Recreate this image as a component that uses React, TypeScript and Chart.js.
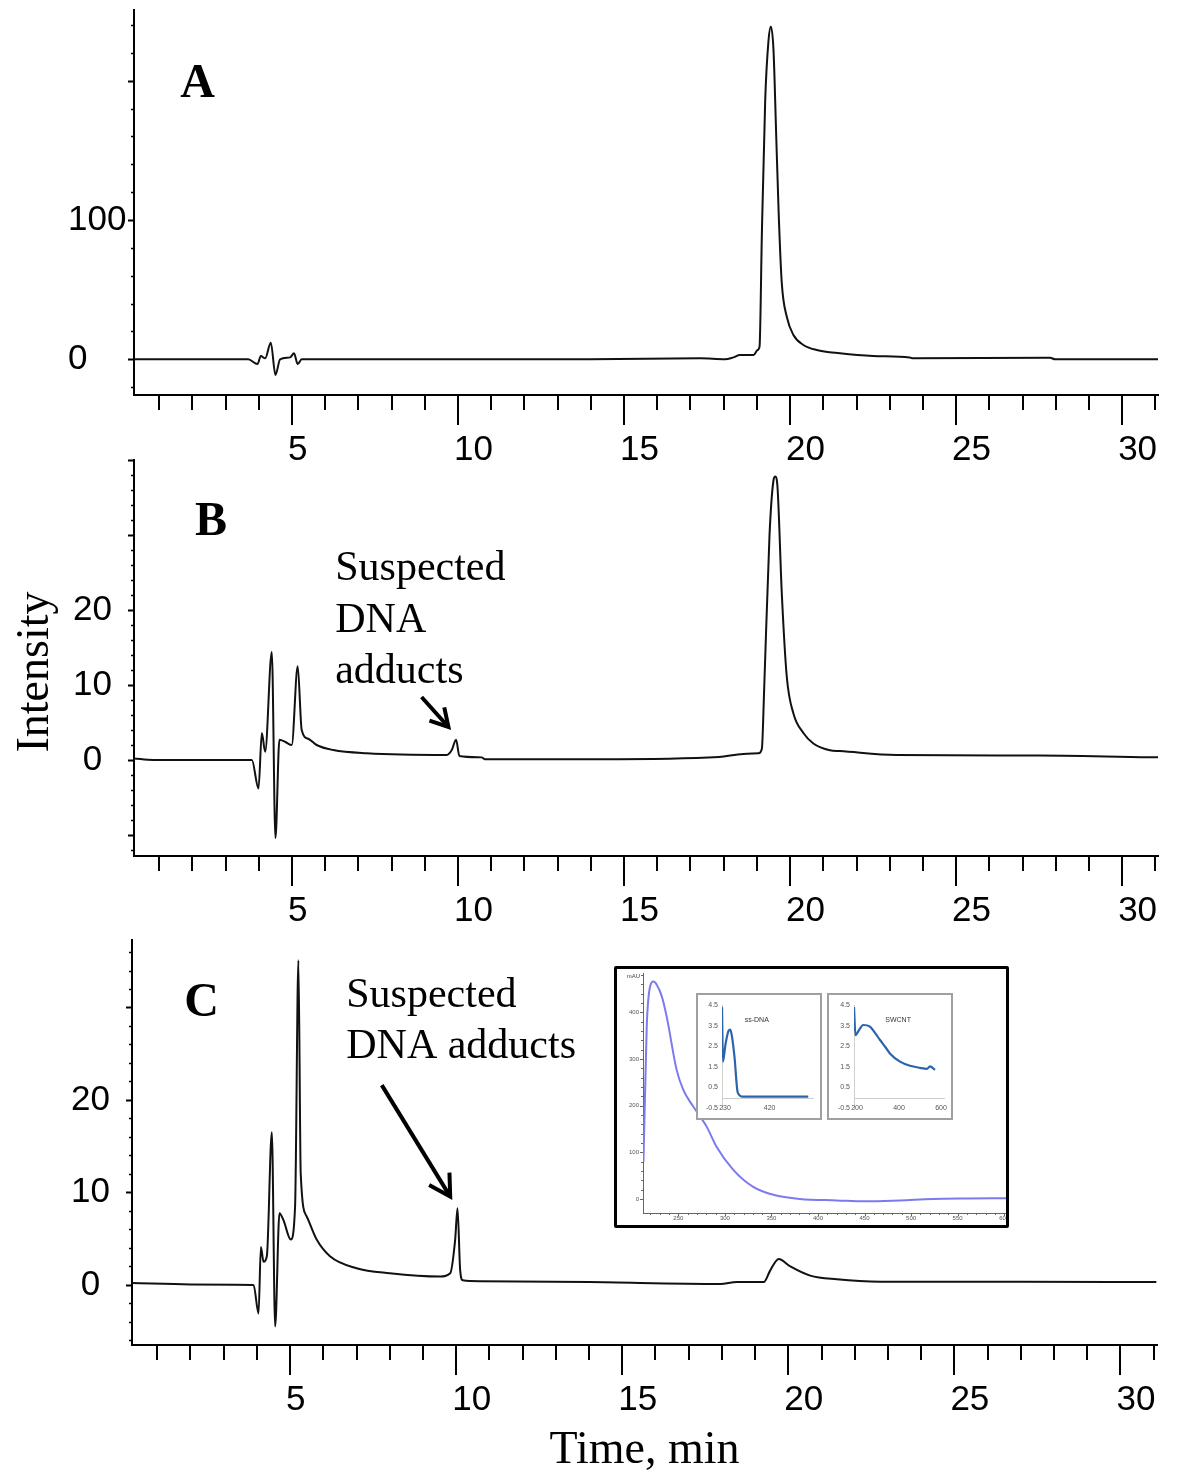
import React, { useEffect, useRef } from "react";
import { Chart, registerables } from "chart.js";

Chart.register(...registerables);

const SANS = "'Liberation Sans', Arial, Helvetica, sans-serif";
const SERIF = "'Liberation Serif', 'Times New Roman', Times, serif";

// ---------------- Data ----------------
// Panel A
const timeA = [0.24, 3.68, 3.96, 4.06, 4.19, 4.36, 4.5, 4.64, 4.94, 5.06, 5.17, 5.29, 9.0, 14.0, 17.29, 18.04, 18.29, 18.49, 18.9, 19.02, 19.08, 19.15, 19.25, 19.35, 19.42, 19.5, 19.58, 19.66, 19.75, 19.9, 20.1, 20.4, 20.8, 21.5, 22.5, 23.6, 23.7, 27.83, 27.98, 31.08];
const intensityA = [0, 0, -3.35, 2.4, 0.7, 12, -11.2, 0, 1.4, 4.3, -3.35, 0, 0, 0, 0.7, 0, 1.4, 3.1, 3.1, 6.7, 9.1, 90.5, 186, 229, 239, 222, 162, 102, 54.5, 30.6, 17.5, 10.3, 6.7, 4.3, 2.4, 1.4, 0.7, 1.2, 0, 0];

// Panel B
const timeB = [0.24, 0.82, 3.79, 3.99, 4.09, 4.19, 4.39, 4.5, 4.62, 4.8, 4.99, 5.17, 5.29, 5.5, 5.74, 6.24, 7.25, 9.66, 9.81, 9.94, 10.04, 10.71, 10.81, 14.25, 17.86, 18.59, 19.05, 19.15, 19.22, 19.38, 19.5, 19.55, 19.62, 19.75, 19.9, 20.1, 20.4, 20.7, 21.2, 21.5, 23.2, 27.5, 31.08];
const intensityB = [0.2, 0, 0, -3.8, 3.6, 1.1, 14.4, -10.4, 2.7, 2.4, 2.0, 12.5, 4.0, 2.8, 2.0, 1.33, 0.9, 0.67, 1.33, 2.7, 0.53, 0.35, 0.1, 0.1, 0.4, 0.8, 0.9, 1.5, 9.6, 30, 37.3, 37.8, 36.4, 22.2, 11.1, 6.2, 3.6, 2.2, 1.3, 1.2, 0.67, 0.6, 0.35];

// Panel C
const timeC = [0.24, 2.0, 3.9, 4.05, 4.12, 4.2, 4.3, 4.45, 4.55, 4.68, 4.8, 5.02, 5.15, 5.25, 5.32, 5.5, 5.8, 6.2, 7.0, 8.0, 9.52, 9.82, 9.97, 10.04, 10.12, 10.2, 10.72, 14.0, 17.95, 18.45, 19.26, 19.46, 19.71, 20.06, 20.66, 21.46, 22.77, 27.0, 31.08];
const intensityC = [0.2, 0.05, 0, -3.1, 4.1, 2.5, 3.1, 16.5, -4.5, 7.75, 7.0, 4.9, 8.5, 35.1, 12, 7.4, 4.9, 3.1, 1.8, 1.26, 0.9, 1.26, 4.9, 8.3, 1.6, 0.5, 0.4, 0.3, 0.1, 0.3, 0.3, 1.6, 2.8, 2.0, 1.0, 0.6, 0.35, 0.35, 0.3];

// Tick labels
const xTickLabels = [5, 10, 15, 20, 25, 30];
const yTickLabelsA = [0, 100];
const yTickLabelsB = [0, 10, 20];
const yTickLabelsC = [0, 10, 20];

// Texts
const panelLetters = ["A", "B", "C"];
const noteLinesB = ["Suspected", "DNA", "adducts"];
const noteLinesC = ["Suspected", "DNA adducts"];
const yTitle = "Intensity";
const xTitle = "Time, min";

// UV inset (main)
const uvWavelength = [212.5, 216, 219.6, 223.2, 226.8, 232.2, 237.5, 248.2, 255.4, 266, 280.4, 291, 309, 330.4, 352, 380.4, 420, 452, 488, 523.3, 560, 602];
const uvAbsorbance = [80, 369, 455, 466, 459, 434, 390, 276, 233, 198, 155, 112, 62.5, 26, 9, 0, -3, -5, -3, 0, 1, 1.5];
const uvTickLabelsX = [250, 300, 350, 400, 450, 500, 550, 600];
const uvTickLabelsY = [0, 100, 200, 300, 400];
const uvUnit = "mAU";

// Sub-spectra
const ssDnaWavelength = [230, 234, 245, 258, 265, 272, 283, 297, 319, 450, 597];
const ssDnaAbsorbance = [4.4, 1.75, 2.6, 3.25, 3.3, 3.0, 2.0, 0.25, 0.05, 0.05, 0.05];
const swcntWavelength = [200, 207, 225, 244, 276, 300, 324, 350, 371, 419, 467, 514, 547, 562, 586];
const swcntAbsorbance = [4.4, 3.04, 3.3, 3.53, 3.45, 3.15, 2.8, 2.45, 2.15, 1.75, 1.55, 1.45, 1.4, 1.52, 1.35];
const subTickLabelsY = [-0.5, 0.5, 1.5, 2.5, 3.5, 4.5];
const ssDnaTickLabelsX = [230, 420];
const swcntTickLabelsX = [200, 400, 600];
const subTitles = ["ss-DNA", "SWCNT"];

// ---------------- Types ----------------
type TextNote = { text: string; x: number; y: number; font: string; rotate?: boolean; align?: CanvasTextAlign; baseline?: CanvasTextBaseline };
type ArrowNote = { x1: number; y1: number; x2: number; y2: number; head: number };
type PanelSpec = {
  top: number; height: number;
  times: number[]; values: number[];
  xMin: number; xMax: number;
  yMin: number; yMax: number; yLabels: number[]; yMajor: number; yMinor: number;
  padLeft: number; yAxisWidth: number; padTop: number; xAxisHeight: number; padRight: number;
  crossAlign: "far" | "center"; yLabelPad: number;
  texts: TextNote[]; arrows: ArrowNote[]; xTitle?: string;
};

const LETTER_FONT = `bold 48px ${SERIF}`;
const NOTE_FONT = `42px ${SERIF}`;

const panelA: PanelSpec = {
  top: 0, height: 470, times: timeA, values: intensityA,
  xMin: 0.24, xMax: 31.08,
  yMin: -25.6, yMax: 250.8, yLabels: yTickLabelsA, yMajor: 100, yMinor: 20,
  padLeft: 68, yAxisWidth: 66, padTop: 10, xAxisHeight: 75, padRight: 20,
  crossAlign: "far", yLabelPad: 10,
  texts: [{ text: panelLetters[0], x: 1.63, y: 188.3, font: LETTER_FONT }],
  arrows: [],
};

const panelB: PanelSpec = {
  top: 440, height: 490, times: timeB, values: intensityB,
  xMin: 0.24, xMax: 31.08,
  yMin: -12.8, yMax: 40, yLabels: yTickLabelsB, yMajor: 10, yMinor: 2,
  padLeft: 0, yAxisWidth: 134, padTop: 20, xAxisHeight: 74, padRight: 20,
  crossAlign: "center", yLabelPad: 22,
  texts: [
    { text: panelLetters[1], x: 2.08, y: 30, font: LETTER_FONT },
    { text: noteLinesB[0], x: 6.3, y: 24, font: NOTE_FONT },
    { text: noteLinesB[1], x: 6.3, y: 17.07, font: NOTE_FONT },
    { text: noteLinesB[2], x: 6.3, y: 10.27, font: NOTE_FONT },
    { text: yTitle, x: -2.7, y: 11.73, font: `46px ${SERIF}`, rotate: true, align: "center", baseline: "middle" },
  ],
  arrows: [{ x1: 8.9, y1: 8.4, x2: 9.71, y2: 4.4, head: 20 }],
};

const panelC: PanelSpec = {
  top: 920, height: 559, times: timeC, values: intensityC,
  xMin: 0.24, xMax: 31.1,
  yMin: -6.5, yMax: 37.3, yLabels: yTickLabelsC, yMajor: 10, yMinor: 2,
  padLeft: 0, yAxisWidth: 132, padTop: 20, xAxisHeight: 134, padRight: 21,
  crossAlign: "center", yLabelPad: 22,
  texts: [
    { text: panelLetters[2], x: 1.81, y: 29.1, font: LETTER_FONT },
    { text: noteLinesC[0], x: 6.69, y: 30.05, font: NOTE_FONT },
    { text: noteLinesC[1], x: 6.69, y: 24.54, font: NOTE_FONT },
  ],
  arrows: [{ x1: 7.76, y1: 21.6, x2: 9.82, y2: 9.55, head: 24 }],
  xTitle: xTitle,
};

function zeroPad(sc: any) {
  sc.paddingTop = 0;
  sc.paddingBottom = 0;
  sc.paddingLeft = 0;
  sc.paddingRight = 0;
}

// ---------------- Panels ----------------
function Panel({ spec }: { spec: PanelSpec }) {
  const ref = useRef<HTMLCanvasElement>(null);
  useEffect(() => {
    const s = spec;
    const decor = {
      id: "decor",
      afterDraw(chart: any) {
        const { ctx, chartArea } = chart;
        const xs = chart.scales.x;
        const ys = chart.scales.y;
        ctx.save();
        ctx.strokeStyle = "#000";
        ctx.lineCap = "butt";
        ctx.lineWidth = 2;
        for (let v = Math.ceil(xs.min); v <= Math.floor(xs.max); v++) {
          const px = Math.round(xs.getPixelForValue(v));
          const len = v % 5 === 0 ? 30 : 15;
          ctx.beginPath();
          ctx.moveTo(px, chartArea.bottom);
          ctx.lineTo(px, chartArea.bottom + len);
          ctx.stroke();
        }
        const k0 = Math.ceil(s.yMin / s.yMinor - 1e-9);
        const k1 = Math.floor(s.yMax / s.yMinor + 1e-9);
        const ratio = Math.round(s.yMajor / s.yMinor);
        for (let k = k0; k <= k1; k++) {
          const v = k * s.yMinor;
          const py = Math.round(ys.getPixelForValue(v)) + 0.5;
          const major = k % ratio === 0;
          ctx.lineWidth = major ? 2 : 1.5;
          const len = major ? 6 : 3;
          ctx.beginPath();
          ctx.moveTo(chartArea.left - len, py);
          ctx.lineTo(chartArea.left, py);
          ctx.stroke();
        }
        ctx.fillStyle = "#000";
        for (const t of s.texts) {
          const px = xs.getPixelForValue(t.x);
          const py = ys.getPixelForValue(t.y);
          ctx.font = t.font;
          ctx.textAlign = t.align ?? "left";
          ctx.textBaseline = t.baseline ?? "alphabetic";
          if (t.rotate) {
            ctx.save();
            ctx.translate(px, py);
            ctx.rotate(-Math.PI / 2);
            ctx.fillText(t.text, 0, 0);
            ctx.restore();
          } else {
            ctx.fillText(t.text, px, py);
          }
        }
        ctx.lineWidth = 4;
        ctx.lineJoin = "miter";
        for (const a of s.arrows) {
          const x1 = xs.getPixelForValue(a.x1), y1 = ys.getPixelForValue(a.y1);
          const x2 = xs.getPixelForValue(a.x2), y2 = ys.getPixelForValue(a.y2);
          const ang = Math.atan2(y2 - y1, x2 - x1);
          ctx.beginPath();
          ctx.moveTo(x1, y1);
          ctx.lineTo(x2 - 2 * Math.cos(ang), y2 - 2 * Math.sin(ang));
          ctx.stroke();
          ctx.beginPath();
          ctx.moveTo(x2 - a.head * Math.cos(ang - 0.52), y2 - a.head * Math.sin(ang - 0.52));
          ctx.lineTo(x2, y2);
          ctx.lineTo(x2 - a.head * Math.cos(ang + 0.52), y2 - a.head * Math.sin(ang + 0.52));
          ctx.stroke();
        }
        ctx.restore();
      },
    };
    const chart = new Chart(ref.current as HTMLCanvasElement, {
      type: "line",
      data: {
        datasets: [
          {
            data: s.times.map((t, i) => ({ x: t, y: s.values[i] })),
            borderColor: "#111",
            borderWidth: 2,
            pointRadius: 0,
            fill: false,
            cubicInterpolationMode: "monotone",
          },
        ],
      },
      options: {
        responsive: false,
        animation: false,
        events: [],
        layout: { padding: { left: s.padLeft, top: s.padTop, right: s.padRight, bottom: 0 } },
        plugins: { legend: { display: false }, tooltip: { enabled: false }, title: { display: false } },
        scales: {
          x: {
            type: "linear",
            min: s.xMin,
            max: s.xMax,
            afterFit: (sc: any) => { sc.height = s.xAxisHeight; zeroPad(sc); },
            afterBuildTicks: (sc: any) => { sc.ticks = xTickLabels.map((v) => ({ value: v })); },
            grid: { display: false, drawTicks: false },
            border: { display: true, color: "#000", width: 2 },
            ticks: { font: { family: SANS, size: 35 }, color: "#000", align: "start", labelOffset: -4, padding: 34, autoSkip: false, maxRotation: 0 },
            title: s.xTitle
              ? { display: true, text: s.xTitle, color: "#000", font: { family: SERIF, size: 46 }, padding: { top: 0, bottom: 0 } }
              : { display: false },
          },
          y: {
            type: "linear",
            min: s.yMin,
            max: s.yMax,
            afterFit: (sc: any) => { sc.width = s.yAxisWidth; zeroPad(sc); },
            afterBuildTicks: (sc: any) => { sc.ticks = s.yLabels.map((v) => ({ value: v })); },
            grid: { display: false, drawTicks: false },
            border: { display: true, color: "#000", width: 2 },
            ticks: { font: { family: SANS, size: 35 }, color: "#000", crossAlign: s.crossAlign, padding: s.yLabelPad, autoSkip: false },
          },
        },
      } as any,
      plugins: [decor],
    });
    return () => chart.destroy();
  }, []);
  return (
    <canvas ref={ref} width={1178} height={spec.height} style={{ position: "absolute", left: 0, top: spec.top }} />
  );
}

// ---------------- UV inset ----------------
function UvInset() {
  const ref = useRef<HTMLCanvasElement>(null);
  useEffect(() => {
    const decor = {
      id: "uvdecor",
      afterDraw(chart: any) {
        const { ctx, chartArea } = chart;
        const xs = chart.scales.x;
        const ys = chart.scales.y;
        ctx.save();
        ctx.strokeStyle = "#666";
        ctx.lineWidth = 1;
        for (let v = 0; v <= 480; v += 20) {
          const py = Math.round(ys.getPixelForValue(v)) + 0.5;
          ctx.beginPath();
          ctx.moveTo(chartArea.left - (v % 100 === 0 ? 3 : 2), py);
          ctx.lineTo(chartArea.left, py);
          ctx.stroke();
        }
        for (let v = 220; v <= 600; v += 10) {
          const px = Math.round(xs.getPixelForValue(v)) + 0.5;
          ctx.beginPath();
          ctx.moveTo(px, chartArea.bottom);
          ctx.lineTo(px, chartArea.bottom + (v % 50 === 0 ? 3 : 2));
          ctx.stroke();
        }
        ctx.fillStyle = "#444";
        ctx.font = `6px ${SANS}`;
        ctx.textAlign = "right";
        ctx.textBaseline = "middle";
        ctx.fillText(uvUnit, chartArea.left - 3, chartArea.top + 3);
        ctx.restore();
      },
    };
    const chart = new Chart(ref.current as HTMLCanvasElement, {
      type: "line",
      data: {
        datasets: [
          {
            data: uvWavelength.map((w, i) => ({ x: w, y: uvAbsorbance[i] })),
            borderColor: "#7b7bef",
            borderWidth: 2,
            pointRadius: 0,
            fill: false,
            cubicInterpolationMode: "monotone",
          },
        ],
      },
      options: {
        responsive: false,
        animation: false,
        events: [],
        layout: { padding: { left: 0, top: 4, right: 0, bottom: 0 } },
        plugins: { legend: { display: false }, tooltip: { enabled: false } },
        scales: {
          x: {
            type: "linear", min: 212, max: 602,
            afterFit: (sc: any) => { sc.height = 12; zeroPad(sc); },
            afterBuildTicks: (sc: any) => { sc.ticks = uvTickLabelsX.map((v) => ({ value: v })); },
            grid: { display: false, drawTicks: false },
            border: { display: true, color: "#666", width: 1 },
            ticks: { font: { family: SANS, size: 6 }, color: "#555", padding: 2, autoSkip: false, maxRotation: 0 },
          },
          y: {
            type: "linear", min: -30, max: 484,
            afterFit: (sc: any) => { sc.width = 26; zeroPad(sc); },
            afterBuildTicks: (sc: any) => { sc.ticks = uvTickLabelsY.map((v) => ({ value: v })); },
            grid: { display: false, drawTicks: false },
            border: { display: true, color: "#666", width: 1 },
            ticks: { font: { family: SANS, size: 6 }, color: "#555", padding: 4, autoSkip: false },
          },
        },
      } as any,
      plugins: [decor],
    });
    return () => chart.destroy();
  }, []);
  return (
    <div style={{ position: "absolute", left: 614, top: 966, width: 395, height: 262, border: "3px solid #000", boxSizing: "border-box", background: "#fff", borderRadius: 2 }}>
      <canvas ref={ref} width={389} height={256} style={{ position: "absolute", left: 0, top: 0 }} />
    </div>
  );
}

type SubSpec = {
  left: number; top: number; wl: number[]; abs: number[]; xMin: number; xMax: number;
  axisWidth: number; xLabels: number[]; title: string; titleX: number; titleY: number;
};

const ssDnaSpec: SubSpec = {
  left: 696, top: 993, wl: ssDnaWavelength, abs: ssDnaAbsorbance, xMin: 230, xMax: 647,
  axisWidth: 24, xLabels: ssDnaTickLabelsX, title: subTitles[0], titleX: 378, titleY: 3.77,
};
const swcntSpec: SubSpec = {
  left: 827, top: 993, wl: swcntWavelength, abs: swcntAbsorbance, xMin: 200, xMax: 662,
  axisWidth: 25, xLabels: swcntTickLabelsX, title: subTitles[1], titleX: 410, titleY: 3.77,
};

function SubSpectrum({ spec }: { spec: SubSpec }) {
  const ref = useRef<HTMLCanvasElement>(null);
  useEffect(() => {
    const s = spec;
    const decor = {
      id: "subdecor",
      afterDraw(chart: any) {
        const { ctx, chartArea } = chart;
        const xs = chart.scales.x;
        const ys = chart.scales.y;
        ctx.save();
        ctx.strokeStyle = "#cfcfcf";
        ctx.lineWidth = 1;
        const y0 = Math.round(ys.getPixelForValue(0)) + 0.5;
        ctx.beginPath();
        ctx.moveTo(chartArea.left, y0);
        ctx.lineTo(chartArea.right - 6, y0);
        ctx.stroke();
        ctx.fillStyle = "#555";
        ctx.font = `7px ${SANS}`;
        ctx.textAlign = "center";
        ctx.textBaseline = "middle";
        const yl = ys.getPixelForValue(-0.5);
        for (const v of s.xLabels) ctx.fillText(String(v), xs.getPixelForValue(v) + 3, yl);
        ctx.fillStyle = "#333";
        ctx.fillText(s.title, xs.getPixelForValue(s.titleX), ys.getPixelForValue(s.titleY));
        ctx.restore();
      },
    };
    const chart = new Chart(ref.current as HTMLCanvasElement, {
      type: "line",
      data: {
        datasets: [
          {
            data: s.wl.map((w, i) => ({ x: w, y: s.abs[i] })),
            borderColor: "#2b63ad",
            borderWidth: 2.2,
            pointRadius: 0,
            fill: false,
            cubicInterpolationMode: "monotone",
          },
        ],
      },
      options: {
        responsive: false,
        animation: false,
        events: [],
        layout: { padding: { left: 0, top: 10, right: 0, bottom: 10 } },
        plugins: { legend: { display: false }, tooltip: { enabled: false } },
        scales: {
          x: { type: "linear", min: s.xMin, max: s.xMax, display: false },
          y: {
            type: "linear", min: -0.5, max: 4.5,
            afterFit: (sc: any) => { sc.width = s.axisWidth; zeroPad(sc); },
            afterBuildTicks: (sc: any) => { sc.ticks = subTickLabelsY.map((v) => ({ value: v })); },
            grid: { display: false, drawTicks: false },
            border: { display: true, color: "#cfcfcf", width: 1 },
            ticks: { font: { family: SANS, size: 7 }, color: "#555", padding: 4, autoSkip: false },
          },
        },
      } as any,
      plugins: [decor],
    });
    return () => chart.destroy();
  }, []);
  return (
    <div style={{ position: "absolute", left: spec.left, top: spec.top, width: 126, height: 127, border: "2px solid #a0a0a0", boxSizing: "border-box", background: "#fff" }}>
      <canvas ref={ref} width={122} height={123} style={{ position: "absolute", left: 0, top: 0 }} />
    </div>
  );
}

export default function App() {
  return (
    <div style={{ position: "absolute", left: 0, top: 0, width: 1178, height: 1479, background: "#fff", overflow: "hidden" }}>
      <Panel spec={panelA} />
      <Panel spec={panelB} />
      <Panel spec={panelC} />
      <UvInset />
      <SubSpectrum spec={ssDnaSpec} />
      <SubSpectrum spec={swcntSpec} />
    </div>
  );
}
